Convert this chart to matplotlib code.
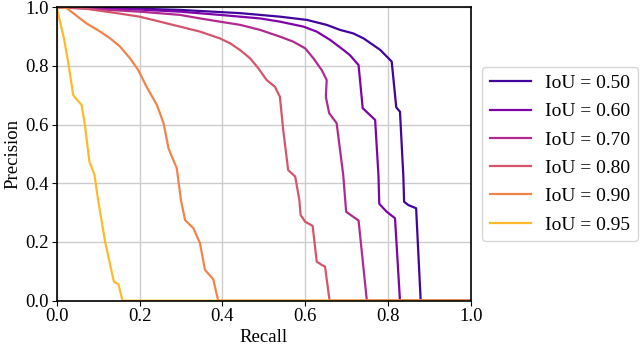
import numpy as np
import matplotlib
matplotlib.use("Agg")
import matplotlib.pyplot as plt

plt.rcParams['font.family'] = ['Liberation Serif', 'DejaVu Serif']
plt.rcParams['font.size'] = 12

# curvas precision-recall
labels = ["IoU = 0.50", "IoU = 0.60", "IoU = 0.70", "IoU = 0.80", "IoU = 0.90", "IoU = 0.95"]

recall_50 = [0.0, 0.1, 0.2, 0.298, 0.443, 0.539, 0.604, 0.652, 0.684, 0.716, 0.741, 0.781, 0.809,
             0.82, 0.829, 0.837, 0.839, 0.849, 0.868, 0.879, 1.0]
prec_50 = [1.0, 0.998, 0.995, 0.991, 0.98, 0.968, 0.957, 0.94, 0.923, 0.911, 0.894, 0.855, 0.815,
           0.659, 0.644, 0.428, 0.337, 0.326, 0.315, 0.0, 0.0]

recall_60 = [0.0, 0.1, 0.2, 0.298, 0.394, 0.491, 0.539, 0.596, 0.628, 0.66, 0.692, 0.708, 0.729,
             0.739, 0.769, 0.777, 0.779, 0.797, 0.817, 0.829, 1.0]
prec_60 = [1.0, 0.997, 0.992, 0.985, 0.974, 0.962, 0.951, 0.934, 0.917, 0.889, 0.855, 0.837, 0.803,
           0.656, 0.616, 0.428, 0.33, 0.303, 0.281, 0.0, 0.0]

recall_70 = [0.0, 0.1, 0.2, 0.298, 0.346, 0.394, 0.443, 0.491, 0.539, 0.571, 0.6, 0.62, 0.64, 0.652,
             0.65, 0.658, 0.676, 0.692, 0.699, 0.729, 0.749, 1.0]
prec_70 = [1.0, 0.993, 0.985, 0.974, 0.962, 0.951, 0.94, 0.923, 0.9, 0.883, 0.86, 0.826, 0.786, 0.752,
           0.695, 0.639, 0.605, 0.428, 0.303, 0.273, 0.0, 0.0]

recall_80 = [0.0, 0.06, 0.145, 0.2, 0.298, 0.346, 0.394, 0.419, 0.443, 0.467, 0.487, 0.507, 0.527,
             0.539, 0.547, 0.559, 0.576, 0.586, 0.589, 0.6, 0.618, 0.628, 0.64, 0.648, 0.659, 1.0]
prec_80 = [1.0, 0.997, 0.98, 0.968, 0.934, 0.917, 0.894, 0.877, 0.854, 0.826, 0.792, 0.752, 0.729,
           0.695, 0.582, 0.445, 0.423, 0.343, 0.292, 0.269, 0.255, 0.133, 0.122, 0.116, 0.0, 0.0]

recall_90 = [0.0, 0.024, 0.04, 0.056, 0.072, 0.105, 0.129, 0.153, 0.177, 0.197, 0.217, 0.242, 0.258,
             0.27, 0.29, 0.3, 0.31, 0.33, 0.346, 0.358, 0.378, 0.39, 1.0]
prec_90 = [1.0, 0.997, 0.98, 0.962, 0.945, 0.917, 0.894, 0.866, 0.826, 0.786, 0.729, 0.667, 0.605,
           0.519, 0.451, 0.343, 0.275, 0.247, 0.196, 0.105, 0.073, 0.0, 0.0]

recall_95 = [0.0, 0.018, 0.028, 0.04, 0.06, 0.068, 0.079, 0.091, 0.10, 0.117, 0.138, 0.149, 0.159, 1.0]
prec_95 = [1.0, 0.89, 0.81, 0.70, 0.667, 0.6, 0.474, 0.43, 0.343, 0.2, 0.065, 0.056, 0.0, 0.0]

recalls = [recall_50, recall_60, recall_70, recall_80, recall_90, recall_95]
precs = [prec_50, prec_60, prec_70, prec_80, prec_90, prec_95]
colores = plt.cm.plasma(np.linspace(0.1, 0.85, 6))

fig = plt.figure(figsize=(6.4, 3.46), dpi=100)
ax = fig.add_axes([0.0886, 0.131, 0.647, 0.848])

for r, p, lab, c in zip(recalls, precs, labels, colores):
    ax.plot(r, p, color=c, lw=1.6, label=lab)

ax.set_xlim(0, 1)
ax.set_ylim(0, 1)
ax.set_xticks(np.arange(0, 1.01, 0.2))
ax.set_yticks(np.arange(0, 1.01, 0.2))
ax.grid(True, color="#cccccc", lw=1)
ax.set_axisbelow(True)
for s in ax.spines.values():
    s.set_color("black")
    s.set_linewidth(1.2)
ax.tick_params(labelsize=13.5, colors="black", pad=2)
ax.set_xlabel("Recall", fontsize=13.5, labelpad=3)
ax.set_ylabel("Precision", fontsize=13.5, labelpad=3)

ax.legend(loc="center left", bbox_to_anchor=(1.003, 0.5), fontsize=14, frameon=True,
          handlelength=2.15, labelspacing=0.55, borderpad=0.4, handletextpad=0.7)

plt.savefig("out.png", dpi=100)
